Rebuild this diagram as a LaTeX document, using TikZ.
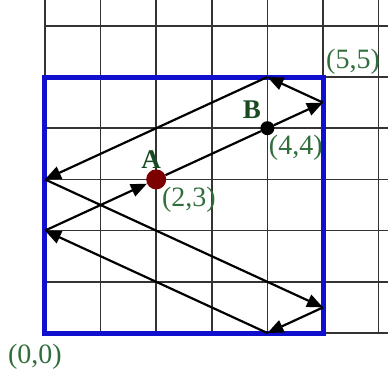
\documentclass[tikz,border=0pt]{standalone}
\usepackage{fontspec}
\setmainfont{Liberation Serif}
\usetikzlibrary{arrows.meta}
\definecolor{lbl}{RGB}{50,110,60}
\definecolor{lblD}{RGB}{25,75,35}
\definecolor{rectblue}{RGB}{15,15,205}
\definecolor{dotred}{RGB}{125,0,0}
\begin{document}
\begin{tikzpicture}[x=55.6pt,y=51.2pt,
 gridline/.style={draw=black!80,line width=1.6pt},
 ray/.style={draw=black,line width=2.2pt},
 arr/.style={ray,-{Triangle[length=16pt,width=13pt]}},
 coordlbl/.style={text=lbl,font=\fontsize{28}{28}\selectfont,inner sep=0pt},
 ptlbl/.style={text=lblD,font=\fontsize{27}{27}\selectfont\bfseries,inner sep=0pt}]
\useasboundingbox (-0.809,-0.801) rectangle (6.169,6.504);
\foreach \i in {0,...,6} \draw[gridline] (\i,0) -- (\i,6.504);
\foreach \j in {0,...,6} \draw[gridline] (0,\j) -- (6.169,\j);
\draw[draw=rectblue,line width=5pt] (0,0) rectangle (5,5);
\coordinate (P1) at (5,4.5);
\coordinate (P2) at (4,5);
\coordinate (P3) at (0,3);
\coordinate (P4) at (5,0.5);
\coordinate (P5) at (4,0);
\coordinate (P6) at (0,2);
\node (A) [circle,fill=dotred,minimum size=20pt,inner sep=0pt] at (2,3) {};
\node (B) [circle,fill=black,minimum size=14pt,inner sep=0pt] at (4,4) {};
\draw[ray] (A) -- (B);
\draw[arr] (B) -- (P1);
\draw[arr] (P1) -- (P2);
\draw[arr] (P2) -- (P3);
\draw[arr] (P3) -- (P4);
\draw[arr] (P4) -- (P5);
\draw[arr] (P5) -- (P6);
\draw[arr] (P6) -- (A);
\node (lA) [ptlbl] at (1.91,3.38) {A};
\node (lB) [ptlbl] at (3.72,4.36) {B};
\node (cA) [coordlbl] at (2.59,2.60) {(2,3)};
\node (cB) [coordlbl] at (4.51,3.61) {(4,4)};
\node (c55) [coordlbl] at (5.54,5.29) {(5,5)};
\node (c00) [coordlbl] at (-0.18,-0.47) {(0,0)};
\end{tikzpicture}
\end{document}
